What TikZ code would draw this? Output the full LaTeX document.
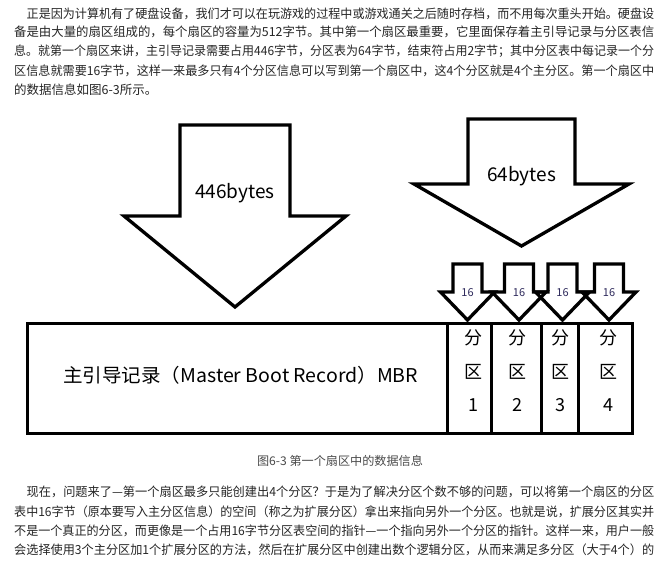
\documentclass[tikz,border=0pt]{standalone}
\usepackage{graphicx}
\usepackage{fontspec}
\setmainfont{Noto Sans CJK SC}
\usetikzlibrary{positioning}

\definecolor{bodytext}{HTML}{262626}
\definecolor{captiontext}{HTML}{4A4A4A}
\definecolor{smalllabel}{HTML}{2E2A5C}

% squeeze or stretch one line of text to a given width (in pt)
\newcommand{\fitline}[2]{\setbox0=\hbox{#2}\pgfmathsetmacro{\fitratio}{#1/\the\wd0}\scalebox{\fitratio}[1]{\box0}}
% block arrow pointing down: centre x, shaft half width, top, head base, head half width, tip
\newcommand{\blockarrow}[6]{\draw[blockline] (#1-#2,#3) -- (#1+#2,#3) -- (#1+#2,#4) -- (#1+#5,#4) -- (#1,#6) -- (#1-#5,#4) -- (#1-#2,#4) -- cycle;}

\begin{document}
\begin{tikzpicture}[x=1pt, y=-1pt,
	blockline/.style={line width=3.3pt, line join=miter},
	boxline/.style={line width=3pt},
	para/.style={anchor=base west, inner sep=0pt, text=bodytext, font=\fontsize{12.5}{14}\selectfont},
	figcaption/.style={anchor=base, inner sep=0pt, text=captiontext, font=\fontsize{12}{14}\selectfont},
	arrowlabel/.style={inner sep=0pt, font=\fontsize{19}{22}\selectfont},
	tinylabel/.style={inner sep=0pt, text=smalllabel, font=\fontsize{11}{12}\selectfont},
	partlabel/.style={inner sep=0pt, font=\fontsize{18}{20}\selectfont}]
	\useasboundingbox[fill=white] (0, 0) rectangle (671, 562);

	% text above the figure
	\node[para] (top1) at (26.5, 18.2) {\fitline{627.5}{正是因为计算机有了硬盘设备，我们才可以在玩游戏的过程中或游戏通关之后随时存档，而不用每次重头开始。硬盘设}};
	\node[para] (top2) at (14, 36.8) {\fitline{640}{备是由大量的扇区组成的，每个扇区的容量为512字节。其中第一个扇区最重要，它里面保存着主引导记录与分区表信}};
	\node[para] (top3) at (14, 55.6) {\fitline{640}{息。就第一个扇区来讲，主引导记录需要占用446字节，分区表为64字节，结束符占用2字节；其中分区表中每记录一个分}};
	\node[para] (top4) at (14, 75.5) {\fitline{640}{区信息就需要16字节，这样一来最多只有4个分区信息可以写到第一个扇区中，这4个分区就是4个主分区。第一个扇区中}};
	\node[para] (top5) at (14, 94) {的数据信息如图6-3所示。};

	% big arrows
	\blockarrow{235}{55}{125}{216}{111}{307}
	\node[arrowlabel] (label446) at (235, 193) {446bytes};
	\blockarrow{521.5}{53.5}{119}{184}{107.5}{246}
	\node[arrowlabel] (label64) at (521.5, 176) {64bytes};

	% small arrows, one per partition entry
	\foreach \cx [count=\i] in {467.5, 519, 562.5, 609} {
		\blockarrow{\cx}{14.5}{264}{292}{27}{320}
		\node[tinylabel] (sixteen\i) at (\cx, 293) {16};
	}

	% first sector
	\draw[boxline] (27, 323) rectangle (447, 433);
	\node[anchor=base west, inner sep=0pt, font=\fontsize{19}{22}\selectfont] (mbrtext) at (63, 382) {\fitline{355}{主引导记录（Master Boot Record）MBR}};
	\foreach \xa/\xb in {447/491, 491/541, 541/578, 578/632}
	\draw[boxline] (\xa, 323) rectangle (\xb, 433);
	\foreach \px [count=\i] in {473, 517, 560, 608} {
		\node[partlabel] (fen\i) at (\px, 338) {分};
		\node[partlabel] (qu\i) at (\px, 372) {区};
		\node[partlabel] (num\i) at (\px, 405) {\i};
	}

	% caption
	\node[figcaption] (caption) at (340, 465.5) {\fitline{166}{图6-3 第一个扇区中的数据信息}};

	% text below the figure
	\node[para] (bot1) at (26.5, 496.5) {\fitline{627.5}{现在，问题来了—第一个扇区最多只能创建出4个分区？于是为了解决分区个数不够的问题，可以将第一个扇区的分区}};
	\node[para] (bot2) at (14, 516.3) {\fitline{640}{表中16字节（原本要写入主分区信息）的空间（称之为扩展分区）拿出来指向另外一个分区。也就是说，扩展分区其实并}};
	\node[para] (bot3) at (14, 535.6) {\fitline{640}{不是一个真正的分区，而更像是一个占用16字节分区表空间的指针—一个指向另外一个分区的指针。这样一来，用户一般}};
	\node[para] (bot4) at (14, 554.8) {\fitline{640}{会选择使用3个主分区加1个扩展分区的方法，然后在扩展分区中创建出数个逻辑分区，从而来满足多分区（大于4个）的}};
\end{tikzpicture}
\end{document}
